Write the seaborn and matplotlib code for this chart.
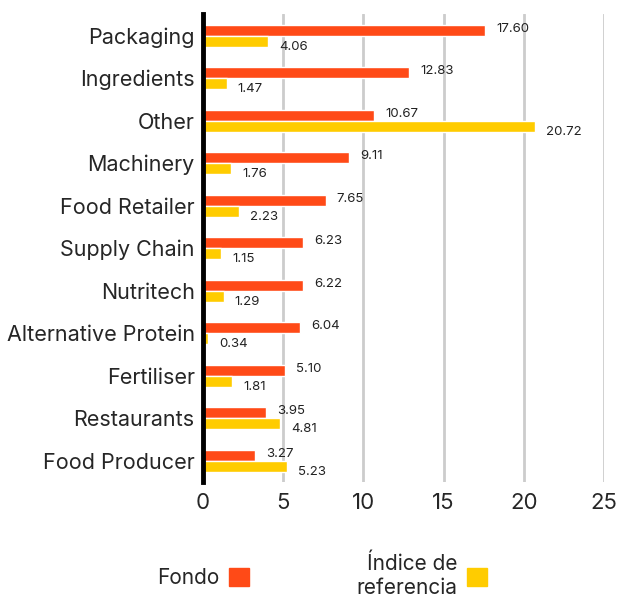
import pandas as pd
import matplotlib.pyplot as plt
import seaborn as sns
from matplotlib.patches import Patch

categories = ['Packaging', 'Ingredients', 'Other', 'Machinery', 'Food Retailer',
              'Supply Chain', 'Nutritech', 'Alternative Protein', 'Fertiliser',
              'Restaurants', 'Food Producer']
fondo = [17.60, 12.83, 10.67, 9.11, 7.65, 6.23, 6.22, 6.04, 5.10, 3.95, 3.27]
indice = [4.06, 1.47, 20.72, 1.76, 2.23, 1.15, 1.29, 0.34, 1.81, 4.81, 5.23]
series = ['Fondo', 'Índice de\nreferencia']
colors = ['#FF4A17', '#FFCC00']
ticks = [0, 5, 10, 15, 20, 25]

df = pd.DataFrame({
    'category': categories * 2,
    'value': fondo + indice,
    'series': [series[0]] * len(categories) + [series[1]] * len(categories),
})

sns.set_style('white')
plt.rcParams['font.family'] = ['Inter', 'DejaVu Sans']

fig = plt.figure(figsize=(6.17, 6.01), dpi=100)
ax = fig.add_axes([0.329, 0.198, 0.650, 0.778])

sns.barplot(data=df, y='category', x='value', hue='series', order=categories,
            hue_order=series, palette=colors, orient='h', width=0.52,
            saturation=1, ax=ax, legend=False)

ax.set_xlim(0, 25)
ax.set_ylim(len(categories) - 0.5, -0.5)
ax.set_xticks(ticks)
ax.set_xticklabels([str(t) for t in ticks], fontsize=16)
ax.tick_params(axis='y', labelsize=15.5, length=0, pad=6)
ax.tick_params(axis='x', length=0, pad=8)
for lbl in ax.get_yticklabels():
    lbl.set_va('center_baseline')
ax.set_xlabel('')
ax.set_ylabel('')
ax.grid(axis='x', color='#CCCCCC', linewidth=2)
ax.set_axisbelow(True)
for s in ['top', 'right', 'bottom']:
    ax.spines[s].set_visible(False)
ax.spines['left'].set_color('black')
ax.spines['left'].set_linewidth(3.5)
ax.spines['left'].set_zorder(5)

# value labels
for i, container in enumerate(ax.containers):
    dy = 1 if i == 0 else -4
    for bar in container:
        w = bar.get_width()
        y = bar.get_y() + bar.get_height() / 2
        ax.annotate(f'{w:.2f}', (w, y), xytext=(8, dy),
                    textcoords='offset points', fontsize=9.5, va='center',
                    ha='left', color='#222222')

handles = [Patch(color=c) for c in colors]
leg = fig.legend(handles, series, loc='center', bbox_to_anchor=(0.522, 0.042),
                 ncol=2, frameon=False, markerfirst=False, fontsize=15,
                 handlelength=0.95, handleheight=0.95, columnspacing=5.2,
                 handletextpad=0.45)
for t in leg.get_texts():
    t.set_multialignment('right')

fig.savefig('out.png', dpi=100)
